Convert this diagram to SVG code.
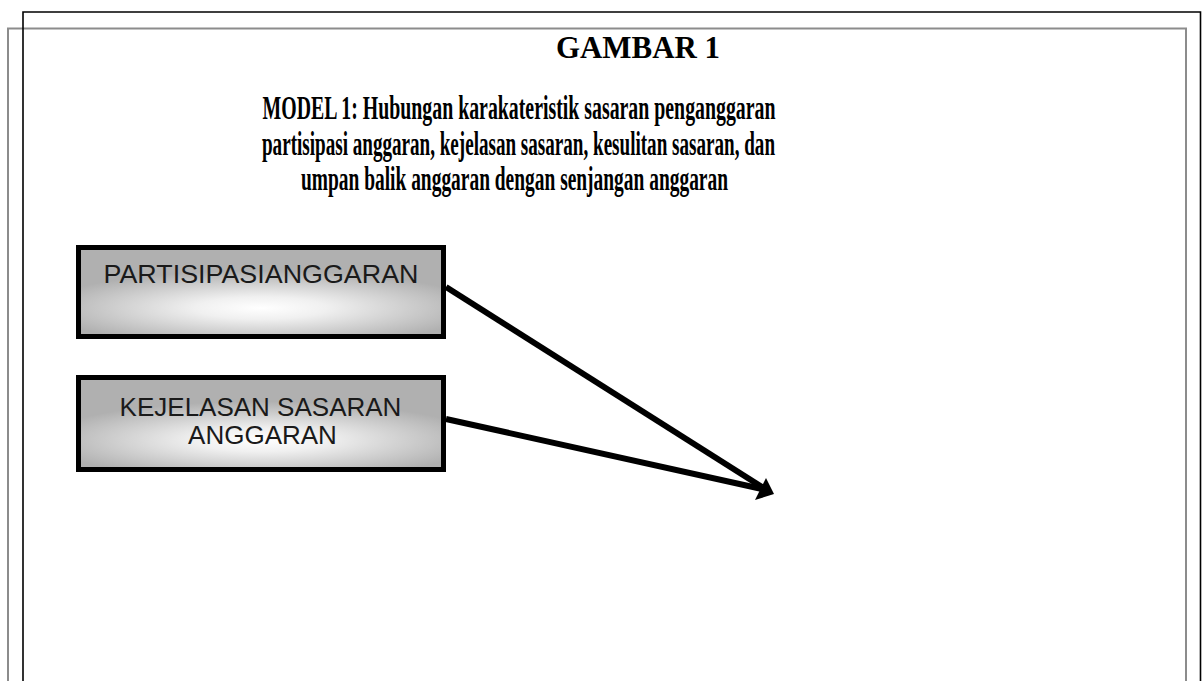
<svg xmlns="http://www.w3.org/2000/svg" width="1203" height="681" viewBox="0 0 1203 681">
<defs>
<radialGradient id="shine" cx="0.5" cy="0.68" r="0.6" fx="0.5" fy="0.68" gradientTransform="translate(0.5 0.68) scale(1 0.7) translate(-0.5 -0.68)">
<stop offset="0" stop-color="#ffffff"/>
<stop offset="0.3" stop-color="#f0f0f0"/>
<stop offset="1" stop-color="#b0b0b0"/>
</radialGradient>
<style>
.frame-b{fill:none;stroke:#000;stroke-width:1.6}
.frame-g{fill:none;stroke:#8c8c8c;stroke-width:2}
.box{fill:url(#shine);stroke:#000;stroke-width:5}
.lbl{font-family:"Liberation Sans",Arial,sans-serif;font-size:26px;fill:#1a1a1a;text-anchor:middle}
.ttl{font-family:"Liberation Serif","Times New Roman",serif;font-weight:bold;fill:#000}
.conn{stroke:#000;stroke-width:6;fill:none}
</style>
</defs>
<rect width="1203" height="681" fill="#fff"/>
<path class="frame-g" d="M8 681 V28.5 H1186 V681"/>
<path class="frame-b" d="M23 681 V12 H1200.5 V681"/>
<g id="title">
<text class="ttl" x="638" y="58" font-size="32" text-anchor="middle" textLength="164" lengthAdjust="spacingAndGlyphs">GAMBAR 1</text>
<text class="ttl" x="519" y="119" font-size="33" text-anchor="middle" textLength="513" lengthAdjust="spacingAndGlyphs">MODEL 1: Hubungan karakateristik sasaran penganggaran</text>
<text class="ttl" x="518.5" y="155" font-size="33" text-anchor="middle" textLength="513" lengthAdjust="spacingAndGlyphs">partisipasi anggaran, kejelasan sasaran, kesulitan sasaran, dan</text>
<text class="ttl" x="514.5" y="190" font-size="33" text-anchor="middle" textLength="427" lengthAdjust="spacingAndGlyphs">umpan balik anggaran dengan senjangan anggaran</text>
</g>
<g id="connectors">
<line class="conn" x1="446" y1="287" x2="762" y2="487"/>
<line class="conn" x1="446" y1="419" x2="762" y2="489"/>
<polygon points="774,494 755,500 766,478" fill="#000"/>
</g>
<g id="node-partisipasi">
<rect class="box" x="78.5" y="247.5" width="365" height="89"/>
<text class="lbl" x="261" y="283" textLength="315" lengthAdjust="spacingAndGlyphs">PARTISIPASIANGGARAN</text>
</g>
<g id="node-kejelasan">
<rect class="box" x="78.5" y="377.5" width="365" height="92"/>
<text class="lbl" x="260.5" y="416">KEJELASAN SASARAN</text>
<text class="lbl" x="262.5" y="444">ANGGARAN</text>
</g>
</svg>
